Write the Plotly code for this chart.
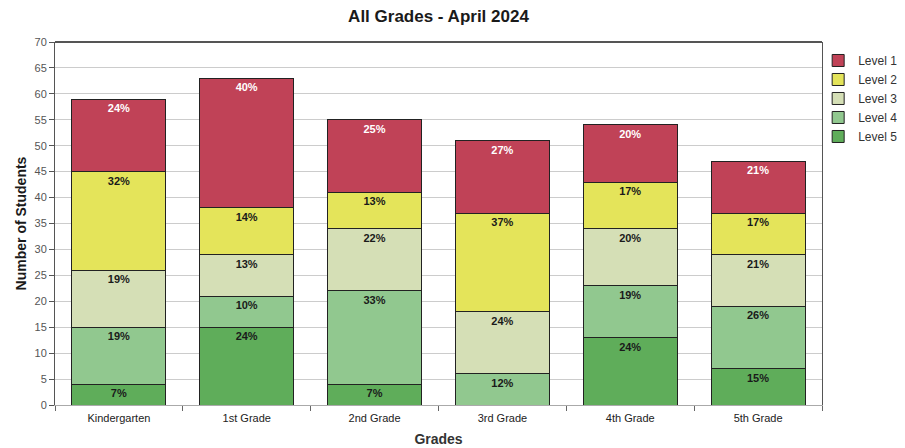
import plotly.graph_objects as go

grades = ["Kindergarten", "1st Grade", "2nd Grade", "3rd Grade", "4th Grade", "5th Grade"]
level1 = [14, 25, 14, 14, 11, 10]
level2 = [19, 9, 7, 19, 9, 8]
level3 = [11, 8, 12, 12, 11, 10]
level4 = [11, 6, 18, 6, 10, 12]
level5 = [4, 15, 4, 0, 13, 7]
y_ticks = list(range(0, 75, 5))

totals = [a + b + c + d + e for a, b, c, d, e in zip(level1, level2, level3, level4, level5)]

series = [
    ("Level 5", level5, "#5FAD5A", "#1a1a1a"),
    ("Level 4", level4, "#91C88F", "#1a1a1a"),
    ("Level 3", level3, "#D5DFB6", "#1a1a1a"),
    ("Level 2", level2, "#E4E45A", "#1a1a1a"),
    ("Level 1", level1, "#C04257", "#ffffff"),
]

fig = go.Figure()
for name, vals, color, tcolor in series:
    texts = [f"{round(v / t * 100)}%" if v > 0 else "" for v, t in zip(vals, totals)]
    fig.add_trace(go.Bar(
        name=name, x=grades, y=vals, text=texts,
        textposition="inside", insidetextanchor="end", textangle=0,
        constraintext="none",
        textfont=dict(family="Liberation Sans, Arial", size=11, color=tcolor, weight="bold"),
        marker=dict(color=color, line=dict(color="#222222", width=1)),
        hoverinfo="skip",
    ))

# page body has an 8px margin, so the figure is slightly smaller than the window
W, H = 897, 440
L, T = 47, 34
R = W - 814
B = H - 397

fig.update_layout(
    barmode="stack",
    bargap=0.265,
    width=W, height=H,
    margin=dict(l=L, r=R, t=T, b=B, autoexpand=False),
    paper_bgcolor="white", plot_bgcolor="white",
    font=dict(family="Liberation Sans, Arial", size=11, color="#333333"),
    title=dict(text="<b>All Grades - April 2024</b>", x=0.5, xanchor="center",
               xref="paper", y=1 - 8 / H, yanchor="middle",
               font=dict(size=17, color="#1a1a1a")),
    legend=dict(traceorder="reversed", x=0.995, xanchor="left", y=0.989, yanchor="top",
                font=dict(size=12, color="#333333"), itemwidth=30,
                tracegroupgap=0, bgcolor="rgba(0,0,0,0)"),
    xaxis=dict(
        title=dict(text="<b>Grades</b>", font=dict(size=14, color="#333333"), standoff=10),
        automargin=False,
        showline=True, linecolor="#aaaaaa", linewidth=1,
        ticks="outside", tickson="boundaries", ticklen=5, tickcolor="#666666",
        tickfont=dict(size=11, color="#222222"), ticklabelstandoff=3,
    ),
    yaxis=dict(
        title=dict(text="<b>Number of Students</b>", font=dict(size=14, color="#1a1a1a"), standoff=4),
        automargin=False,
        range=[0, 70], tickvals=y_ticks, ticktext=[str(v) for v in y_ticks],
        showgrid=True, gridcolor="#cccccc", gridwidth=1,
        showline=True, linecolor="#555555", linewidth=1, mirror=True,
        ticks="outside", ticklen=5, tickcolor="#555555",
        tickfont=dict(size=11, color="#555555"),
        zeroline=False,
    ),
    shapes=[dict(type="line", xref="paper", yref="paper", x0=0, x1=1, y0=1, y1=1,
                 line=dict(color="#555555", width=2))],
)

fig.write_html("out.html")
